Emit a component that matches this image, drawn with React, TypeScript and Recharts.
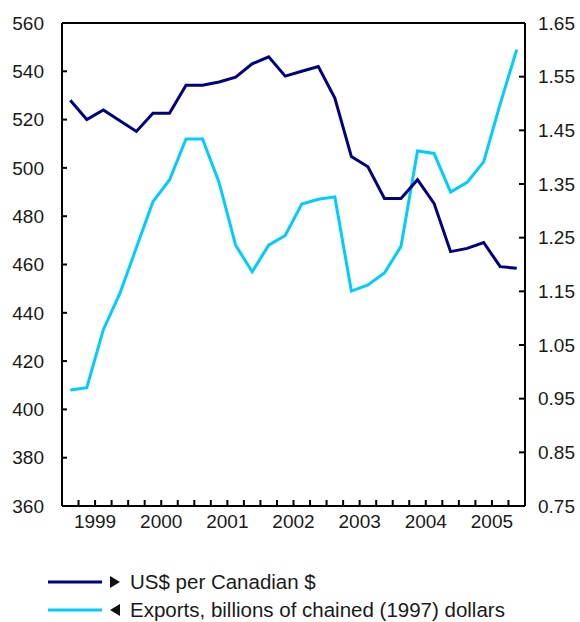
import { LineChart, Line, XAxis, YAxis, ReferenceLine, Legend } from "recharts";

// quarterly, 1999Q1 .. 2005Q4
const years = ["1999", "2000", "2001", "2002", "2003", "2004", "2005"];
const quarters = years.flatMap((y) => ["Q1", "Q2", "Q3", "Q4"].map((q) => `${y}${q}`));

// left axis, billions of chained (1997) dollars
const exportsBn = [
  408, 409, 433, 448, 467, 486, 495, 512, 512, 494, 468, 457, 468, 472,
  485, 487, 488, 449, 451.5, 456.5, 467.5, 507, 506, 490, 494, 502.5, 526.5, 549,
];

// right axis
const usdPerCad = [
  1.506, 1.47, 1.488, 1.468, 1.448, 1.482, 1.482, 1.534, 1.534, 1.54, 1.549,
  1.574, 1.587, 1.551, 1.56, 1.569, 1.51, 1.401, 1.382, 1.323, 1.323, 1.358,
  1.314, 1.224, 1.23, 1.241, 1.196, 1.193,
];

const leftTicks = [360, 380, 400, 420, 440, 460, 480, 500, 520, 540, 560];
const rightTicks = [0.75, 0.85, 0.95, 1.05, 1.15, 1.25, 1.35, 1.45, 1.55, 1.65];

const NAVY = "#000080";
const CYAN = "#00CCFF";
const FONT = "Arial, 'Liberation Sans', sans-serif";

const data = quarters.map((q, i) => ({
  idx: i,
  quarter: q,
  exports: exportsBn[i],
  usd: usdPerCad[i],
}));

// tick marks sit between quarters, year labels in the middle of each year
const boundaryTicks = quarters.slice(1).map((_, i) => i + 0.5);
const yearLabel = (v: number) => {
  const k = (v - 1.5) / 4;
  return Number.isInteger(k) && years[k] ? years[k] : "";
};

const legendItems = [
  { label: "US$ per Canadian $", color: NAVY, dir: "right" },
  { label: "Exports, billions of chained (1997) dollars", color: CYAN, dir: "left" },
];

function LegendBox() {
  return (
    <svg width={580} height={58} style={{ display: "block" }}>
      {legendItems.map((it, i) => {
        const y = 18 + i * 28;
        const tri =
          it.dir === "right"
            ? `110,${y - 6} 120,${y} 110,${y + 6}`
            : `120,${y - 6} 110,${y} 120,${y + 6}`;
        return (
          <g key={it.label}>
            <line x1={48} x2={102} y1={y} y2={y} stroke={it.color} strokeWidth={3} />
            <polygon points={tri} fill="#111" />
            <text x={130} y={y} dy="0.35em" fontSize={20.5} fontFamily={FONT} fill="#1a1a1a">
              {it.label}
            </text>
          </g>
        );
      })}
    </svg>
  );
}

const tickStyle = { fontSize: 19, fontFamily: FONT, fill: "#1a1a1a" };

export default function App() {
  return (
    <div style={{ position: "absolute", left: 0, top: 0, width: 580, height: 622, background: "#fff" }}>
      <LineChart width={580} height={622} data={data} margin={{ top: 23, right: 0, bottom: 86, left: 0 }}>
        <XAxis
          dataKey="idx"
          type="number"
          domain={[-0.5, 27.5]}
          ticks={boundaryTicks}
          interval={0}
          tickFormatter={yearLabel}
          height={30}
          tickSize={-6}
          tickMargin={15}
          tick={tickStyle}
          axisLine={{ stroke: "#000", strokeWidth: 2 }}
          tickLine={{ stroke: "#000", strokeWidth: 2 }}
        />
        <YAxis
          yAxisId="left"
          orientation="left"
          domain={[360, 560]}
          ticks={leftTicks}
          interval={0}
          width={62}
          tickSize={-5}
          tickMargin={23}
          tick={tickStyle}
          axisLine={{ stroke: "#000", strokeWidth: 2 }}
          tickLine={{ stroke: "#000", strokeWidth: 2 }}
        />
        <YAxis
          yAxisId="right"
          orientation="right"
          domain={[0.75, 1.65]}
          ticks={rightTicks}
          interval={0}
          width={55}
          tickSize={-6}
          tickMargin={19}
          tickFormatter={(v: number) => v.toFixed(2)}
          tick={tickStyle}
          axisLine={{ stroke: "#000", strokeWidth: 2 }}
          tickLine={{ stroke: "#000", strokeWidth: 2 }}
        />
        <ReferenceLine yAxisId="left" y={560} stroke="#000" strokeWidth={2} />
        <Line
          yAxisId="left"
          dataKey="exports"
          stroke={CYAN}
          strokeWidth={3}
          dot={false}
          type="linear"
          isAnimationActive={false}
        />
        <Line
          yAxisId="right"
          dataKey="usd"
          stroke={NAVY}
          strokeWidth={3}
          dot={false}
          type="linear"
          isAnimationActive={false}
        />
        <Legend
          layout="vertical"
          align="center"
          verticalAlign="middle"
          wrapperStyle={{ top: 564, left: 0, width: 580 }}
          content={() => <LegendBox />}
        />
      </LineChart>
    </div>
  );
}
